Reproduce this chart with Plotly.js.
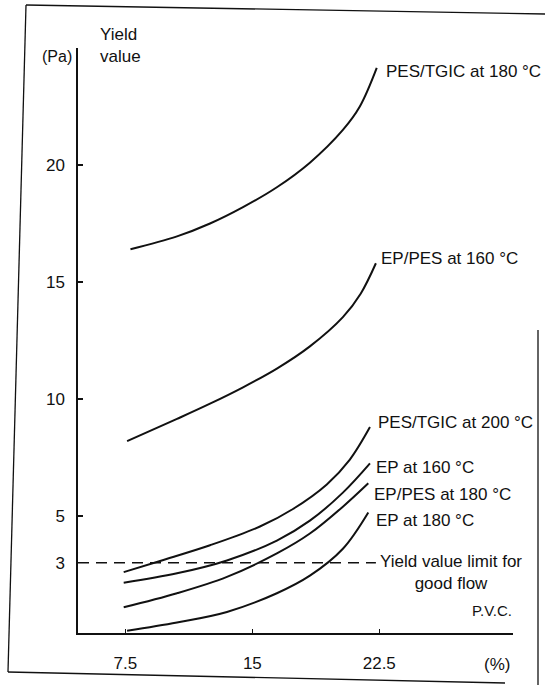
<!DOCTYPE html>
<html>
<head>
<meta charset="utf-8">
<script src="https://cdn.plot.ly/plotly-3.0.1.min.js"></script>
<style>
html,body{margin:0;padding:0;background:#fff;}
#chart{width:545px;height:685px;}
</style>
</head>
<body>
<div id="chart"></div>
<script>
// ---- data (P.V.C. in %, yield value in Pa) ----
const seriesNames = ["PES/TGIC at 180 °C", "EP/PES at 160 °C", "PES/TGIC at 200 °C",
                     "EP at 160 °C", "EP/PES at 180 °C", "EP at 180 °C"];

const pesTgic180X = [7.8, 10.55, 12.5, 14.45, 16.45, 18.4, 20.35, 21.35, 22.35];
const pesTgic180Y = [16.4, 16.95, 17.5, 18.2, 19.05, 20.1, 21.5, 22.5, 24.15];

const epPes160X = [7.6, 10.55, 12.5, 14.45, 16.45, 18.4, 20.35, 21.4, 22.3];
const epPes160Y = [8.2, 9.15, 9.8, 10.5, 11.3, 12.25, 13.5, 14.5, 15.8];

const pesTgic200X = [7.4, 9.55, 12.5, 15.45, 17.4, 19.4, 20.75, 21.95];
const pesTgic200Y = [2.6, 3.08, 3.75, 4.55, 5.3, 6.35, 7.4, 8.8];

const ep160X = [7.4, 10.55, 13.5, 16.45, 18.4, 20.35, 21.95];
const ep160Y = [2.15, 2.55, 3.1, 3.95, 4.8, 6.0, 7.25];

const epPes180X = [7.4, 10.55, 13.5, 16.45, 18.4, 20.35, 21.85];
const epPes180Y = [1.1, 1.7, 2.4, 3.4, 4.25, 5.4, 6.4];

const ep180X = [7.6, 10.55, 13.5, 16.45, 18.4, 20.35, 21.85];
const ep180Y = [0.1, 0.45, 0.9, 1.7, 2.45, 3.6, 5.15];

const limitX = [4.7, 22.3];
const limitY = [3, 3];

const xTickVals = [7.5, 15, 22.5];
const xTickText = ["7.5", "15", "22.5"];
const yTickVals = [3, 5, 10, 15, 20];
const yTickText = ["3", "5", "10", "15", "20"];

// ---- layout helpers ----
const W = 545, H = 685;
const M = {l: 78, r: 32, t: 48, b: 52};
const PW = W - M.l - M.r, PH = H - M.t - M.b;
function px(x) { return (x - M.l) / PW; }
function py(y) { return (H - M.b - y) / PH; }

const ink = "#111";
const fontFam = "'Liberation Sans', Arial, Helvetica, sans-serif";
const lineStyle = {color: ink, width: 2, shape: "spline", smoothing: 1};

const xs = [pesTgic180X, epPes160X, pesTgic200X, ep160X, epPes180X, ep180X];
const ys = [pesTgic180Y, epPes160Y, pesTgic200Y, ep160Y, epPes180Y, ep180Y];

const traces = seriesNames.map((n, i) => ({
  type: "scatter", mode: "lines", name: n,
  x: xs[i], y: ys[i], line: lineStyle, hoverinfo: "skip"
}));
traces.push({
  type: "scatter", mode: "lines", name: "Yield value limit for good flow",
  x: limitX, y: limitY,
  line: {color: ink, width: 1.6, dash: "11px,7px"}, hoverinfo: "skip"
});

// label positions (pixels in the page)
const labelPos = [
  [384, 72], [379, 258], [376, 423], [374, 467], [372, 495], [374, 520]
];
const annotations = seriesNames.map((n, i) => ({
  xref: "paper", yref: "paper", x: px(labelPos[i][0]), y: py(labelPos[i][1]),
  xanchor: "left", yanchor: "middle", showarrow: false, text: n,
  font: {size: 17, color: ink, family: fontFam}
}));
annotations.push(
  {xref: "paper", yref: "paper", x: px(451), y: py(572), xanchor: "center", yanchor: "middle",
   showarrow: false, align: "center", text: "Yield value limit for<br>good flow",
   font: {size: 17, color: ink, family: fontFam}},
  {xref: "paper", yref: "paper", x: px(492), y: py(610), xanchor: "center", yanchor: "middle",
   showarrow: false, text: "P.V.C.", font: {size: 15, color: ink, family: fontFam}},
  {xref: "paper", yref: "paper", x: px(497), y: py(664), xanchor: "center", yanchor: "middle",
   showarrow: false, text: "(%)", font: {size: 17, color: ink, family: fontFam}},
  {xref: "paper", yref: "paper", x: px(98), y: py(45), xanchor: "left", yanchor: "middle",
   showarrow: false, align: "left", text: "Yield<br>value", font: {size: 17, color: ink, family: fontFam}},
  {xref: "paper", yref: "paper", x: px(74), y: py(57), xanchor: "right", yanchor: "middle",
   showarrow: false, text: "(Pa)", font: {size: 16, color: ink, family: fontFam}}
);

// scanned page frame
function seg(x0, y0, x1, y1) {
  return {type: "line", xref: "paper", yref: "paper",
          x0: px(x0), y0: py(y0), x1: px(x1), y1: py(y1),
          line: {color: ink, width: 1.3}};
}
const shapes = [
  seg(26, 5, 545, 14),
  seg(26, 5, 8, 672),
  seg(538, 330, 538, 685),
  seg(8, 672, 505, 683)
];

const layout = {
  width: W, height: H,
  margin: M,
  paper_bgcolor: "#fff", plot_bgcolor: "#fff",
  showlegend: false,
  font: {family: fontFam, size: 16, color: ink},
  xaxis: {
    range: [4.7, 30.4], showgrid: false, zeroline: false,
    showline: true, linecolor: ink, linewidth: 1.6,
    ticks: "inside", ticklen: 4, tickwidth: 1.2, tickcolor: ink,
    tickvals: xTickVals, ticktext: xTickText, ticklabelstandoff: 14,
    tickfont: {size: 17, color: ink, family: fontFam}, fixedrange: true
  },
  yaxis: {
    range: [0, 25], showgrid: false, zeroline: false,
    showline: true, linecolor: ink, linewidth: 1.6,
    ticks: "inside", ticklen: 5, tickwidth: 1.2, tickcolor: ink,
    tickvals: yTickVals, ticktext: yTickText, ticklabelstandoff: 8,
    tickfont: {size: 17, color: ink, family: fontFam}, fixedrange: true
  },
  annotations: annotations,
  shapes: shapes
};

Plotly.newPlot("chart", traces, layout, {staticPlot: true, displayModeBar: false});
</script>
</body>
</html>
